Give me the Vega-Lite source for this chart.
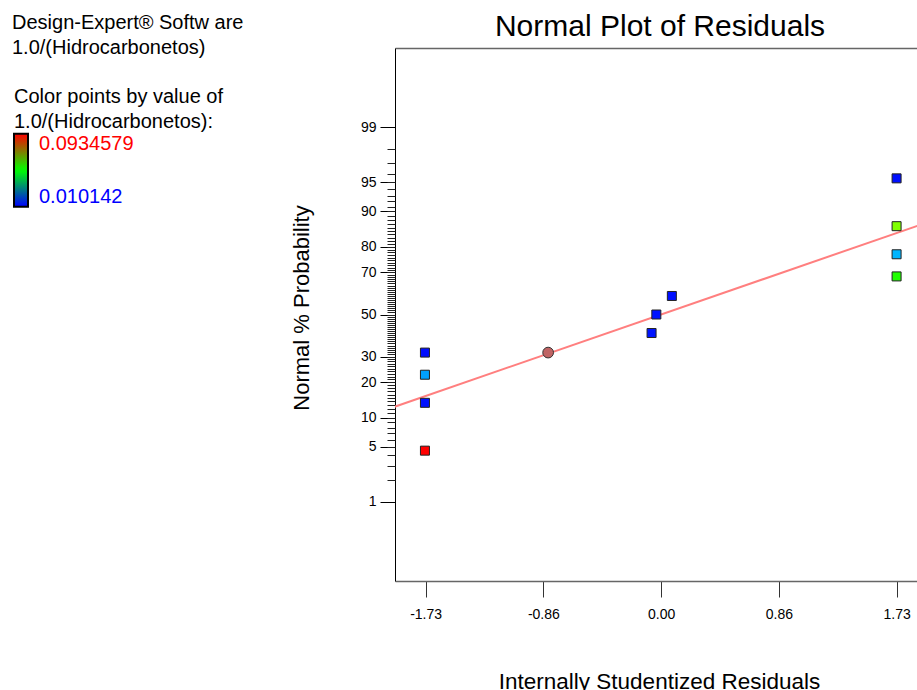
{
  "$schema": "https://vega.github.io/schema/vega-lite/v6.json",
  "width": 522,
  "height": 533,
  "autosize": "none",
  "padding": {"left": 395, "top": 48, "right": 0, "bottom": 109},
  "background": "white",
  "config": {"font": "Liberation Sans", "view": {"stroke": null}},
  "title": {"text": "Normal Plot of Residuals", "fontSize": 30, "fontWeight": "normal", "color": "black", "anchor": "middle", "dx": 4, "offset": -53, "baseline": "alphabetic"},
  "datasets": {
    "points": [
      {"residual": -1.735, "prob": 4.5, "score": -1.691, "value": 0.0934579},
      {"residual": -1.735, "prob": 13.6, "score": -1.097, "value": 0.0115},
      {"residual": -1.735, "prob": 22.7, "score": -0.748, "value": 0.0232},
      {"residual": -1.735, "prob": 31.8, "score": -0.473, "value": 0.0112},
      {"residual": -0.07, "prob": 40.9, "score": -0.23, "value": 0.0118},
      {"residual": -0.035, "prob": 50.0, "score": 0.0, "value": 0.0116},
      {"residual": 0.079, "prob": 59.1, "score": 0.23, "value": 0.0114},
      {"residual": 1.73, "prob": 68.2, "score": 0.473, "value": 0.0544},
      {"residual": 1.73, "prob": 77.3, "score": 0.748, "value": 0.0249},
      {"residual": 1.73, "prob": 86.4, "score": 1.097, "value": 0.0622},
      {"residual": 1.73, "prob": 95.5, "score": 1.691, "value": 0.0114}
    ],
    "highlight": [
      {"residual": -0.83, "prob": 31.8, "score": -0.473}
    ],
    "fit": [
      {"residual": -2.0, "score": -1.17},
      {"residual": 2.0, "score": 1.17}
    ]
  },
  "resolve": {"axis": {"x": "independent", "y": "independent"}},
  "layer": [
    {
      "data": {"name": "fit"},
      "mark": {"type": "line", "color": "#ff7f7f", "strokeWidth": 2, "clip": true},
      "encoding": {
        "x": {"field": "residual", "type": "quantitative",
          "scale": {"domain": [-1.955, 1.88], "nice": false, "zero": false},
          "axis": {"orient": "bottom", "values": [-1.73, -0.865, 0, 0.865, 1.73],
            "labelExpr": "datum.value < -1 ? '-1.73' : datum.value < -0.5 ? '-0.86' : datum.value < 0.5 ? '0.00' : datum.value < 1 ? '0.86' : '1.73'",
            "grid": false, "tickSize": 16, "tickColor": "#333", "domainColor": "#666", "domainWidth": 1.5,
            "labelFontSize": 14, "labelColor": "black", "labelPadding": 10, "labelBaseline": "top",
            "title": "Internally Studentized Residuals", "titleFontSize": 22.5, "titleFontWeight": "normal", "titleColor": "black",
            "titleX": 264, "titleY": 89, "titleBaseline": "top", "titleAlign": "center"}},
        "y": {"field": "score", "type": "quantitative",
          "scale": {"domain": [-3.31, 3.31], "nice": false, "zero": false},
          "axis": {"orient": "left", "values": [-2.32635, -1.64485, -1.28155, -0.84162, -0.5244, 0, 0.5244, 0.84162, 1.28155, 1.64485, 2.32635],
            "labelExpr": "format(cumulativeNormal(datum.value) * 100, '.0f')",
            "grid": false, "tickSize": 15, "tickColor": "black", "domainColor": "black", "domainWidth": 1,
            "labelFontSize": 14, "labelColor": "black", "labelPadding": 4,
            "title": "Normal % Probability", "titleFontSize": 22, "titleFontWeight": "normal", "titleColor": "black",
            "titleX": -93.5, "titleY": 259.5, "titleBaseline": "middle", "titleAlign": "center", "titleAngle": -90}}
      }
    },
    {
      "data": {"name": "points"},
      "mark": {"type": "point", "shape": "square", "filled": true, "size": 81, "stroke": "#222", "strokeWidth": 1, "opacity": 1},
      "encoding": {
        "x": {"field": "residual", "type": "quantitative",
          "axis": {"orient": "top", "ticks": false, "labels": false, "grid": false, "title": null, "domainColor": "#666", "domainWidth": 1.5}},
        "y": {"field": "score", "type": "quantitative",
          "axis": {"orient": "left", "values": [-2.05375, -1.88079, -1.75069, -1.64485, -1.55477, -1.47579, -1.40507, -1.34076, -1.28155, -1.22653, -1.17499, -1.12639, -1.08032, -1.03643, -0.99446, -0.95417, -0.91537, -0.8779, -0.84162, -0.80642, -0.77219, -0.73885, -0.7063, -0.67449, -0.64335, -0.61281, -0.58284, -0.55338, -0.5244, -0.49585, -0.4677, -0.43991, -0.41246, -0.38532, -0.35846, -0.33185, -0.30548, -0.27932, -0.25335, -0.22754, -0.20189, -0.17637, -0.15097, -0.12566, -0.10043, -0.07527, -0.05015, -0.02507, 0, 0.02507, 0.05015, 0.07527, 0.10043, 0.12566, 0.15097, 0.17637, 0.20189, 0.22754, 0.25335, 0.27932, 0.30548, 0.33185, 0.35846, 0.38532, 0.41246, 0.43991, 0.4677, 0.49585, 0.5244, 0.55338, 0.58284, 0.61281, 0.64335, 0.67449, 0.7063, 0.73885, 0.77219, 0.80642, 0.84162, 0.8779, 0.91537, 0.95417, 0.99446, 1.03643, 1.08032, 1.12639, 1.17499, 1.22653, 1.28155, 1.34076, 1.40507, 1.47579, 1.55477, 1.64485, 1.75069, 1.88079, 2.05375],
            "labels": false, "domain": false, "grid": false, "title": null, "tickSize": 8, "tickColor": "#222"}},
        "fill": {"field": "value", "type": "quantitative",
          "scale": {"domain": [0.010142, 0.030971, 0.0518, 0.072629, 0.0934579], "range": ["#0000ff", "#00ffff", "#00ff00", "#ffff00", "#ff0000"], "interpolate": "rgb"},
          "legend": {"orient": "none", "legendX": -383, "legendY": -35, "padding": 0,
            "title": ["Design-Expert® Softw are", "1.0/(Hidrocarbonetos)"],
            "titleFontSize": 20, "titleFontWeight": "normal", "titleColor": "black", "titleLineHeight": 24.75, "titlePadding": 0, "titleLimit": 400, "titleBaseline": "top",
            "direction": "vertical", "gradientLength": 2, "gradientThickness": 1, "gradientStrokeWidth": 0, "gradientOpacity": 0,
            "labelExpr": "''", "labelOpacity": 0, "labelFontSize": 1}}
      }
    },
    {
      "data": {"name": "highlight"},
      "mark": {"type": "point", "shape": "circle", "filled": true, "size": 115, "fill": "#c06464", "stroke": "#333", "strokeWidth": 1, "opacity": 1},
      "encoding": {
        "x": {"field": "residual", "type": "quantitative", "axis": null},
        "y": {"field": "score", "type": "quantitative", "axis": null}
      }
    },
    {
      "data": {"name": "points"},
      "mark": {"type": "point", "filled": true, "size": 0, "opacity": 1},
      "encoding": {
        "x": {"field": "residual", "type": "quantitative", "axis": null},
        "y": {"field": "score", "type": "quantitative", "axis": null},
        "color": {"field": "value", "type": "quantitative",
          "scale": {"domain": [0.010142, 0.0518, 0.0934579], "range": ["#0000ff", "#00ff00", "#ff0000"], "interpolate": "rgb"},
          "legend": {"orient": "none", "legendX": -381, "legendY": 39, "padding": 0,
            "title": ["Color points by value of", "1.0/(Hidrocarbonetos):"],
            "titleFontSize": 20, "titleFontWeight": "normal", "titleColor": "black", "titleLineHeight": 24.75, "titlePadding": 2, "titleLimit": 400, "titleBaseline": "top",
            "direction": "vertical", "gradientLength": 73, "gradientThickness": 14, "gradientStrokeColor": "black", "gradientStrokeWidth": 2, "gradientOpacity": 1,
            "values": [0.010142, 0.0934579], "format": ".6~g",
            "labelFontSize": 20, "labelOffset": 11, "labelColor": {"expr": "datum.value > 0.05 ? '#ff0000' : '#0000ff'"}}}
      }
    }
  ]
}
